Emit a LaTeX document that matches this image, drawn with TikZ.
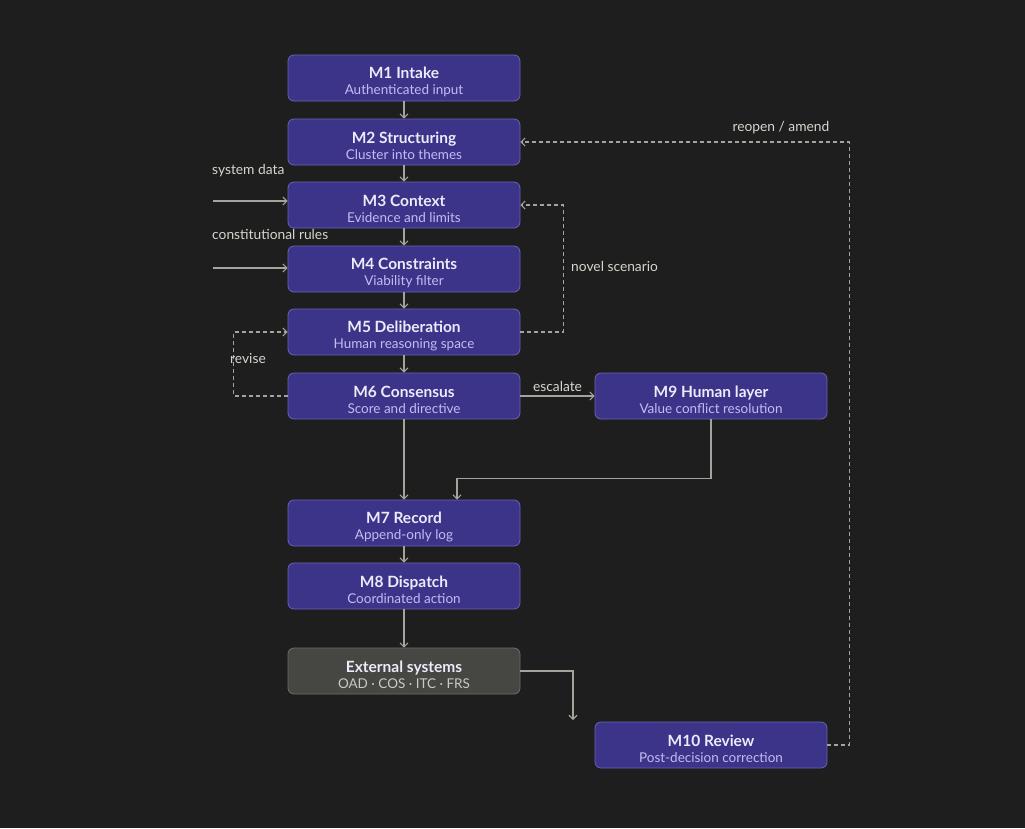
\documentclass[tikz,border=0pt]{standalone}
\usepackage{fontspec}
\setmainfont{Lato}
\usetikzlibrary{arrows.meta}
\definecolor{bg}{HTML}{1E1E1E}
\definecolor{modfill}{HTML}{3C3489}
\definecolor{modline}{HTML}{6A62B8}
\definecolor{modtitle}{HTML}{ECEAFB}
\definecolor{modsub}{HTML}{C4BCF2}
\definecolor{extfill}{HTML}{464642}
\definecolor{extline}{HTML}{6E6E68}
\definecolor{extsub}{HTML}{CACAC2}
\definecolor{wire}{HTML}{A4A49C}
\definecolor{note}{HTML}{D6D6CE}

\begin{document}
\begin{tikzpicture}[x=1pt,y=-1pt,
  modbox/.style={draw=modline,fill=modfill,rounded corners=6pt,line width=0.8pt,
    minimum width=232pt,minimum height=46pt,inner sep=0pt,align=center,
    text=modtitle,font=\fontsize{15.5}{16}\selectfont},
  extbox/.style={modbox,draw=extline,fill=extfill},
  flow/.style={draw=wire,line width=1.1pt,-{Straight Barb[length=4pt,width=8pt]}},
  fb/.style={flow,dashed,dash pattern=on 4pt off 3pt},
  tag/.style={text=note,font=\fontsize{13.8}{15}\selectfont,inner sep=1pt}]
\fill[bg] (0,0) rectangle (1025,828);

\node[modbox] (m1) at (404,78) {\rule{0pt}{20pt}{\bfseries M1 Intake}\\{\color{modsub}\fontsize{13.5}{15}\selectfont Authenticated input}};
\node[modbox] (m2) at (404,142) {\rule{0pt}{20pt}{\bfseries M2 Structuring}\\{\color{modsub}\fontsize{13.5}{15}\selectfont Cluster into themes}};
\node[modbox] (m3) at (404,205) {\rule{0pt}{20pt}{\bfseries M3 Context}\\{\color{modsub}\fontsize{13.5}{15}\selectfont Evidence and limits}};
\node[modbox] (m4) at (404,269) {\rule{0pt}{20pt}{\bfseries M4 Constraints}\\{\color{modsub}\fontsize{13.5}{15}\selectfont Viability filter}};
\node[modbox] (m5) at (404,332) {\rule{0pt}{20pt}{\bfseries M5 Deliberation}\\{\color{modsub}\fontsize{13.5}{15}\selectfont Human reasoning space}};
\node[modbox] (m6) at (404,396) {\rule{0pt}{20pt}{\bfseries M6 Consensus}\\{\color{modsub}\fontsize{13.5}{15}\selectfont Score and directive}};
\node[modbox] (m9) at (711,396) {\rule{0pt}{20pt}{\bfseries M9 Human layer}\\{\color{modsub}\fontsize{13.5}{15}\selectfont Value conflict resolution}};
\node[modbox] (m7) at (404,523) {\rule{0pt}{20pt}{\bfseries M7 Record}\\{\color{modsub}\fontsize{13.5}{15}\selectfont Append-only log}};
\node[modbox] (m8) at (404,586) {\rule{0pt}{20pt}{\bfseries M8 Dispatch}\\{\color{modsub}\fontsize{13.5}{15}\selectfont Coordinated action}};
\node[extbox] (ext) at (404,671) {\rule{0pt}{20pt}{\bfseries External systems}\\{\color{extsub}\fontsize{13.5}{15}\selectfont OAD · COS · ITC · FRS}};
\node[modbox] (m10) at (711,745) {\rule{0pt}{20pt}{\bfseries M10 Review}\\{\color{modsub}\fontsize{13.5}{15}\selectfont Post-decision correction}};

\coordinate (sysin) at (213,201);
\coordinate (rulein) at (213,268);
\coordinate (extout) at (573,720);

\draw[flow] (m1) -- (m2);
\draw[flow] (m2) -- (m3);
\draw[flow] (m3) -- (m4);
\draw[flow] (m4) -- (m5);
\draw[flow] (m5) -- (m6);
\draw[flow] (m6) -- (m7);
\draw[flow] (m7) -- (m8);
\draw[flow] (m8) -- (ext);
\draw[flow] (m6) -- (m9) node[tag,midway,above=3pt] {escalate};
\draw[flow] (m9.south) -- ++(0,59) -| ([xshift=53pt]m7.north);
\draw[flow] (ext.east) -| (extout);
\draw[flow] (sysin) -- (sysin -| m3.west);
\draw[flow] (rulein) -- (rulein -| m4.west);

\draw[fb] (m5.east) -- ++(43,0) |- (m3.east);
\draw[fb] (m6.west) -- ++(-54,0) |- (m5.west);
\draw[fb] (m10.east) -- ++(22,0) |- (m2.east);

\node[tag,anchor=west] (sysdata) at (211,171) {system data};
\node[tag,anchor=west] (rules) at (211,234) {constitutional rules};
\node[tag,anchor=west] (novel) at (570,266) {novel scenario};
\node[tag] (revise) at (248,359) {revise};
\node[tag] (reopen) at (781,128) {reopen / amend};
\end{tikzpicture}
\end{document}
